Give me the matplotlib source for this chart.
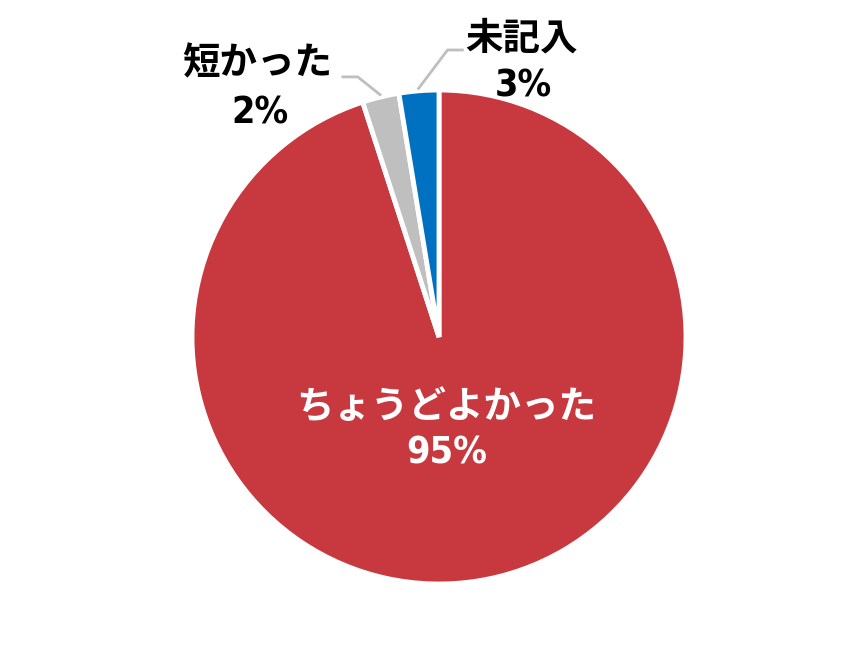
import numpy as np
import matplotlib
matplotlib.use("Agg")
import matplotlib.pyplot as plt

# data
labels = ["ちょうどよかった", "短かった", "未記入"]
values = [95.0, 2.4, 2.6]
colors = ["#C8393F", "#BFBFBF", "#0070C0"]

W, H = 865, 670
fig = plt.figure(figsize=(W / 100, H / 100), dpi=100)
# pie centre (439, 337) px, radius 247 px
cx, cy, R = 439, 337, 247
ax = fig.add_axes([(cx - R) / W, (H - cy - R) / H, 2 * R / W, 2 * R / H])

wedges, _ = ax.pie(values, colors=colors, startangle=90, counterclock=False,
                   radius=1, wedgeprops=dict(edgecolor="white", linewidth=3.5))
ax.set_xlim(-1, 1)
ax.set_ylim(-1, 1)
ax.set_aspect("equal")
ax.axis("off")

jp = ["Noto Sans CJK JP", "DejaVu Sans"]
num = dict(family="DejaVu Sans", stretch="condensed", fontweight="bold", fontsize=27)
jpkw = dict(family=jp, fontweight="bold", fontsize=27)

total = sum(values)
pct = [f"{round(v / total * 100):.0f}%" for v in values]

def mid(w):
    return np.deg2rad((w.theta1 + w.theta2) / 2)

# big slice label
ax.text(0.03, -0.285, labels[0], ha="center", va="center", color="white", **jpkw)
ax.text(0.03, -0.47, pct[0], ha="center", va="center", color="white", **num)

lc = "#BFBFBF"
# gray slice: leader goes up-left
a = mid(wedges[1])
p0 = (1.01 * np.cos(a), 1.01 * np.sin(a))
p1 = (p0[0] - 0.09, 1.053)
p2 = (p1[0] - 0.06, 1.053)
ax.plot([p0[0], p1[0], p2[0]], [p0[1], p1[1], p2[1]], color=lc, lw=2, clip_on=False)
ax.text(-0.737, 1.11, labels[1], ha="center", va="center", color="black", **jpkw)
ax.text(-0.725, 0.905, pct[1], ha="center", va="center", color="black", **num)

# blue slice: leader goes up-right
a = mid(wedges[2])
p0 = (1.01 * np.cos(a), 1.01 * np.sin(a))
p1 = (p0[0] + 0.117, 1.162)
p2 = (p1[0] + 0.06, 1.162)
ax.plot([p0[0], p1[0], p2[0]], [p0[1], p1[1], p2[1]], color=lc, lw=2, clip_on=False)
ax.text(0.336, 1.21, labels[2], ha="center", va="center", color="black", **jpkw)
ax.text(0.34, 1.015, pct[2], ha="center", va="center", color="black", **num)

fig.savefig("out.png", dpi=100)
